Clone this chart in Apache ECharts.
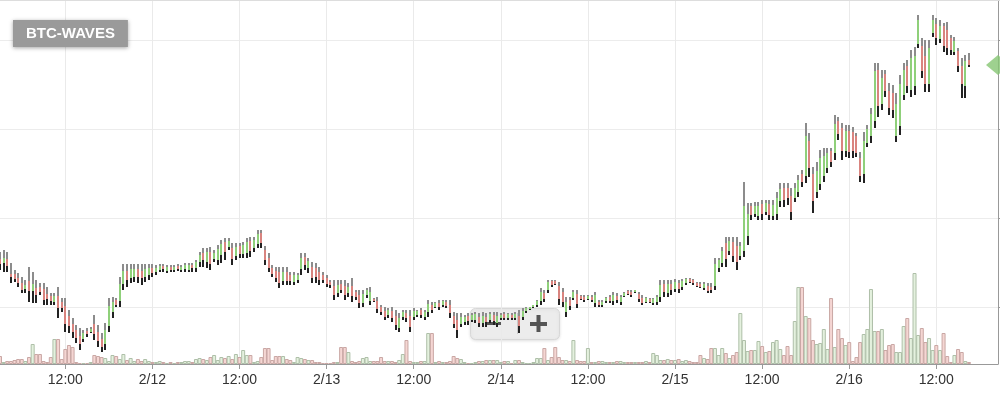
<!DOCTYPE html>
<html><head><meta charset="utf-8">
<script src="https://cdn.jsdelivr.net/npm/echarts@6/dist/echarts.min.js"></script>
<style>html,body{margin:0;padding:0;background:#fff}#c{width:1000px;height:393px}</style>
</head><body><div id="c"></div>
<script>
// 30-minute periods starting 2/11 03:00
const categoryCount = 276;
const tickLabels = ['12:00','2/12','12:00','2/13','12:00','2/14','12:00','2/15','12:00','2/16','12:00'];

const opens = [137,133,137,122,122,118,113,107,115,105,108,109,107,102,100,94,100,94,90,80,72,66,60,57,65,64,72,64,57,52,70,84,96,95,112,125,118,119,127,125,119,121,128,124,126,130,125,129,126,130,126,127,126,131,128,134,143,134,144,137,136,141,154,149,148,140,150,142,143,155,148,152,163,146,138,128,125,124,115,124,121,114,116,127,139,128,129,128,124,121,118,114,110,103,112,110,103,110,104,101,93,101,95,97,95,89,85,81,85,80,68,79,83,80,79,81,86,79,84,91,89,93,91,94,91,80,76,72,74,80,76,76,79,73,79,76,81,73,78,82,78,81,78,80,79,85,87,89,91,95,103,106,115,115,110,104,84,96,98,102,100,99,97,99,93,94,91,95,99,95,100,94,100,105,104,104,102,98,94,97,93,94,99,112,103,112,107,113,109,113,117,116,113,112,108,110,109,110,128,133,153,145,154,150,140,145,160,190,182,180,192,184,192,180,182,195,208,208,200,198,204,222,220,255,222,204,212,220,228,245,243,275,268,245,265,264,260,238,222,253,260,275,326,292,322,305,303,260,270,301,330,306,310,352,350,340,312,363,372,357,370,366,358,344,345,330,310,336];
const closes = [132,138,130,119,117,113,106,111,105,112,101,104,96,97,95,100,88,88,72,70,64,58,52,63,62,67,62,55,49,66,90,94,91,112,125,116,127,127,119,118,127,128,123,128,130,127,129,126,129,127,129,131,131,128,134,141,136,144,132,143,147,152,144,155,137,149,142,151,154,145,156,162,153,136,128,122,118,113,124,115,115,121,121,138,131,135,118,119,116,116,112,111,101,111,106,101,109,100,99,93,102,106,104,95,87,84,79,86,78,71,78,84,78,69,85,85,81,84,92,86,93,89,95,90,83,72,66,79,79,75,81,82,73,80,74,82,75,80,81,78,82,78,82,70,85,88,89,91,95,104,97,114,111,112,97,94,94,90,104,92,97,96,100,96,101,91,94,98,95,101,96,99,103,102,101,106,97,93,98,94,97,99,111,104,112,106,114,107,115,117,114,113,110,109,112,105,106,132,136,145,137,155,140,134,150,190,182,181,190,190,182,193,181,191,198,207,196,198,184,208,216,214,260,228,195,225,238,240,243,234,272,262,245,265,244,245,243,220,255,267,282,325,290,318,305,288,286,292,312,326,310,338,340,376,325,312,348,376,358,370,350,348,346,355,330,312,335,331];
const highs = [144,146,144,133,126,123,119,116,129,124,116,113,113,109,103,103,109,98,98,86,78,71,68,66,68,69,81,71,63,73,98,99,98,119,132,132,132,132,132,132,132,132,132,131,132,132,131,131,131,132,131,133,133,133,136,144,148,148,149,146,151,156,158,158,153,153,153,154,158,159,159,166,166,150,143,131,129,129,129,129,124,124,123,143,143,138,134,133,129,124,121,116,116,116,116,116,113,118,106,106,106,108,109,98,99,91,89,88,89,86,83,86,86,86,88,86,88,86,96,94,94,96,96,96,96,84,83,83,81,83,83,84,83,84,83,84,84,84,83,84,83,83,84,86,88,89,89,91,96,108,106,116,116,116,114,108,99,99,106,106,101,101,101,101,104,96,96,99,101,104,103,101,104,106,106,106,104,101,99,98,98,101,116,116,116,116,117,116,117,118,118,117,114,114,114,113,113,138,138,149,159,159,159,159,154,214,193,193,194,194,196,196,196,196,204,213,213,213,208,213,221,226,273,263,229,234,246,248,248,248,281,279,273,271,271,269,263,244,264,271,288,333,333,326,326,313,311,303,321,333,336,346,349,381,358,356,356,381,378,376,373,374,361,359,348,338,341,343];
const lows = [126,124,124,113,114,109,103,103,94,93,93,101,91,91,91,91,78,84,64,63,58,53,46,54,59,63,56,49,44,46,64,78,89,89,106,109,113,114,113,111,114,116,119,121,124,124,123,124,124,125,124,124,124,124,124,129,129,128,126,134,131,133,136,146,131,136,138,138,138,139,144,148,148,131,124,119,114,108,111,111,111,111,113,121,126,123,113,113,111,113,109,108,96,99,103,96,99,94,96,88,89,98,91,94,83,81,76,78,74,66,64,76,74,64,76,79,78,76,79,83,88,86,89,88,78,68,58,69,71,71,74,73,69,69,69,73,71,69,76,76,76,76,76,63,76,83,86,88,89,91,94,103,109,111,91,89,79,86,96,88,96,94,96,94,89,89,89,93,93,91,93,91,99,101,99,103,94,91,93,93,91,91,94,99,99,101,104,103,106,111,113,111,109,108,106,103,103,106,124,129,129,141,134,126,136,139,151,176,179,176,176,181,176,176,176,189,189,191,176,194,199,209,213,219,183,198,206,214,223,229,236,256,236,239,238,238,239,214,213,249,253,268,279,286,299,281,278,254,261,296,303,299,301,348,318,304,304,359,351,353,344,341,341,341,324,298,298,329];
const volumes = [8,2,3,3,4,5,5,3,7,20,10,10,3,2,7,25,25,5,15,19,17,2,1,1,1,2,9,8,7,6,3,9,8,5,10,4,6,3,5,3,5,3,2,2,3,2,1,2,1,2,2,3,3,2,5,6,5,4,7,9,4,7,6,8,5,10,7,14,9,9,2,3,7,16,16,4,8,8,8,5,4,2,7,6,5,4,4,2,2,1,1,1,2,2,17,17,12,3,2,3,6,7,3,3,3,7,3,3,3,2,4,10,24,3,2,2,3,3,31,31,2,3,2,2,3,8,6,5,2,1,1,2,3,3,4,4,4,4,2,3,3,1,4,4,2,1,1,2,6,6,16,4,7,17,7,4,4,3,24,4,3,3,16,2,2,3,3,2,2,2,3,3,2,2,2,2,2,2,3,2,11,9,4,4,5,4,4,5,3,4,3,2,2,9,6,5,16,16,9,16,11,6,9,12,51,24,13,14,14,23,18,12,13,22,24,15,9,18,9,43,77,77,48,46,24,20,21,35,15,66,17,35,26,19,22,3,7,22,30,35,75,33,33,35,14,19,20,12,12,38,46,26,91,29,36,22,26,14,19,14,31,8,2,9,15,12,3,2];

// build 30-min time categories
const categories = [];
(function(){
  const d = new Date(2017, 1, 11, 3, 0);
  for (let i = 0; i < categoryCount; i++) {
    const t = new Date(d.getTime() + i * 30 * 60000);
    const hh = String(t.getHours()).padStart(2,'0'), mm = String(t.getMinutes()).padStart(2,'0');
    categories.push((t.getMonth()+1) + '/' + t.getDate() + ' ' + hh + ':' + mm);
  }
})();
function isTick(idx){ const s = categories[idx]; return !!s && (s.endsWith(' 00:00') || s.endsWith(' 12:00')); }
function fmtLabel(val){ const p = val.split(' '); return p[1] === '00:00' ? p[0] : p[1]; }

const candleData = opens.map((o,i)=>[i, o, closes[i], lows[i], highs[i]]);

function renderCandle(params, api){
  const i = api.value(0), o = api.value(1), c = api.value(2), l = api.value(3), h = api.value(4);
  const pH = api.coord([i,h]), pL = api.coord([i,l]), pO = api.coord([i,o]), pC = api.coord([i,c]);
  const x = Math.round(pH[0]) - 1;
  const top = Math.min(pO[1], pC[1]), bot = Math.max(pO[1], pC[1]);
  const up = c >= o;
  return {type:'group', children:[
    {type:'rect', shape:{x:x, y:pH[1], width:2, height:Math.max(0, top-pH[1])}, style:{fill:'#8c8c8c'}},
    {type:'rect', shape:{x:x, y:bot, width:2, height:Math.max(0, pL[1]-bot)}, style:{fill:'#222'}},
    {type:'rect', shape:{x:x, y:top, width:2, height:Math.max(1.5, bot-top)}, style:{fill: up ? '#8fd07a' : '#d9847f'}}
  ]};
}

const FONT = 'Liberation Sans, Arial, sans-serif';
const chart = echarts.init(document.getElementById('c'), null, {renderer:'canvas'});
chart.setOption({
  animation:false,
  backgroundColor:'#fff',
  title:{text:'BTC-WAVES', left:13, top:20, backgroundColor:'#9a9a9a', padding:[6,13],
    shadowBlur:4, shadowColor:'rgba(0,0,0,0.35)', shadowOffsetY:1,
    textStyle:{color:'#fff', fontSize:15, fontWeight:'bold', lineHeight:15, fontFamily:FONT}},
  grid:[
    {left:0, right:2, top:0, bottom:29},   // candles
    {left:0, right:2, top:0, bottom:29},   // volume + time axis
    {left:0, right:2, top:40, bottom:86}   // price grid lines
  ],
  xAxis:[
    {type:'category', gridIndex:0, data:categories, boundaryGap:false, show:false},
    {type:'category', gridIndex:1, data:categories, boundaryGap:false,
     axisLine:{lineStyle:{color:'#999', width:1}},
     axisTick:{show:true, interval:(i)=>isTick(i), length:5, lineStyle:{color:'#999'}},
     splitLine:{show:true, interval:(i)=>isTick(i), lineStyle:{color:'#eaeaea'}},
     axisLabel:{interval:(i)=>isTick(i), formatter:fmtLabel, fontSize:14, color:'#333', margin:9, fontFamily:FONT}},
    {type:'category', gridIndex:2, data:categories, boundaryGap:false, show:false}
  ],
  yAxis:[
    {type:'value', gridIndex:0, position:'right', min:32, max:396, show:false, splitLine:{show:false}},
    {type:'value', gridIndex:1, position:'right', min:0, max:364,
     axisLine:{show:true, lineStyle:{color:'#999'}}, axisTick:{show:false},
     axisLabel:{show:false}, splitLine:{show:false}},
    {type:'value', gridIndex:2, position:'right', min:0, max:3, interval:1,
     axisLine:{show:false}, axisTick:{show:true, length:3, lineStyle:{color:'#999'}},
     axisLabel:{show:false}, splitLine:{show:true, lineStyle:{color:'#ececec'}}}
  ],
  graphic:[
    {type:'line', shape:{x1:0, y1:0.5, x2:1000, y2:0.5}, style:{stroke:'#ddd', lineWidth:1}, z:10},
    {type:'group', z:100, children:[
      {type:'rect', shape:{x:470.5, y:308.5, width:89, height:31, r:5},
       style:{fill:'rgba(238,238,238,0.8)', stroke:'#d8d8d8', lineWidth:1, shadowBlur:3, shadowColor:'rgba(0,0,0,0.12)', shadowOffsetY:1}},
      {type:'rect', shape:{x:485, y:322, width:17, height:3}, style:{fill:'#555'}},
      {type:'line', shape:{x1:517.5, y1:313, x2:517.5, y2:334}, style:{stroke:'#c8c8c8', lineWidth:1}},
      {type:'rect', shape:{x:530, y:322, width:17, height:4}, style:{fill:'#555'}},
      {type:'rect', shape:{x:536.5, y:315, width:4, height:17}, style:{fill:'#555'}}
    ]}
  ],
  series:[
    {type:'bar', xAxisIndex:1, yAxisIndex:1, barWidth:4, z:1,
     data: volumes.map((v,i)=>{ const up = closes[i] >= opens[i]; return {value:v, itemStyle:{
       color: up ? '#e4f1de' : '#f5d6d3', borderColor: up ? '#aebfa8' : '#c9a7a4', borderWidth:1}}; })},
    {type:'custom', xAxisIndex:0, yAxisIndex:0, renderItem:renderCandle, data:candleData,
     encode:{x:0, y:[1,2,3,4]}, clip:true, z:5},
    {type:'scatter', xAxisIndex:0, yAxisIndex:0, symbol:'diamond', symbolSize:[24,20], clip:false, z:20,
     itemStyle:{color:'#86c673'}, data:[[categoryCount-1, closes[closes.length-1]]]}
  ]
});
</script></body></html>
